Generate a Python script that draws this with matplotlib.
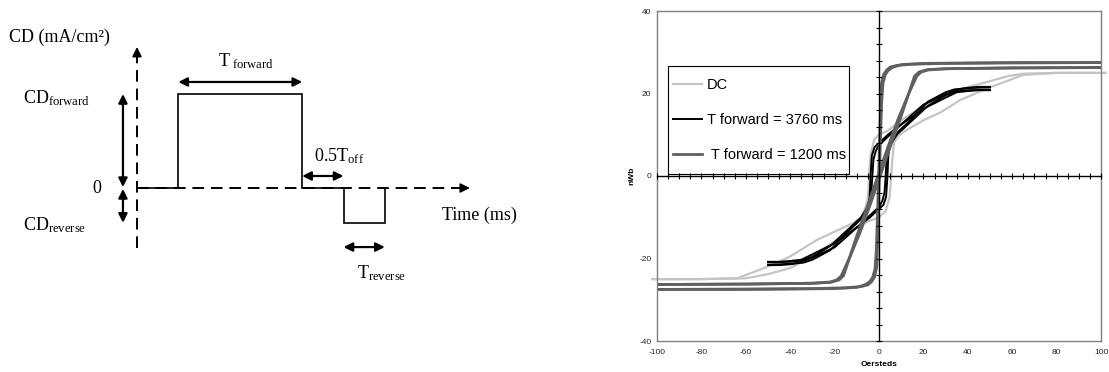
import numpy as np
import matplotlib
matplotlib.use("Agg")
import matplotlib.pyplot as plt
from matplotlib.patches import Rectangle

plt.rcParams['font.family'] = ['Liberation Sans', 'DejaVu Sans']
plt.rcParams['axes.unicode_minus'] = False
plt.rcParams['mathtext.fontset'] = 'custom'
plt.rcParams['mathtext.rm'] = 'Liberation Serif'
plt.rcParams['mathtext.it'] = 'Liberation Serif:italic'
plt.rcParams['mathtext.bf'] = 'Liberation Serif:bold'

# ---------------- schematic (left) data: abstract time / current units ----------------
pulse_t = [0, 1, 1, 4, 4, 5, 5, 6, 6]
pulse_cd = [0, 0, 1, 1, 0, 0, -0.37, -0.37, 0]
time_axis_end = 8.06
cd_axis_bottom = -0.64
cd_axis_top = 1.5

# ---------------- hysteresis data (Oersteds, nWb) ----------------
dc_desc_x = [102, 80, 65, 58, 50, 40, 30, 20, 10, 4, 0, -2, -3.5, -4.3, -4.7, -5.2, -6.3, -8.6, -12, -20, -28, -40, -48, -55, -64, -80, -102]
dc_desc_y = [25, 25, 24.8, 24.2, 23, 21.5, 19.5, 17, 13.5, 11, 10, 9, 6, 2, -3, -6, -8, -10.3, -11.5, -13.5, -15.5, -19.5, -21.5, -23, -24.8, -25, -25]
dc_asc_x = [-102, -80, -60, -50, -40, -30, -19, -13, -8, -4, 0, 3, 4.8, 5.5, 6, 6.8, 9, 12.5, 20, 28, 36.5, 50, 59, 65, 80, 102]
dc_asc_y = [-25, -25, -24.8, -23.8, -22.3, -19.5, -15.5, -13.3, -11.8, -10.8, -10, -8.5, -5, 0, 4, 8.2, 9.8, 11.2, 13.5, 15.5, 18.4, 21.5, 23.3, 24.5, 25, 25]

b1_desc_x = [50, 45, 40, 36, 30, 20, 10, 4, 0, -2, -3.2, -3.8, -4.2, -5, -8.6, -15, -22, -30, -34, -40, -50]
b1_desc_y = [21.6, 21.6, 21.4, 21.0, 19.8, 17.3, 12.5, 10.0, 8.0, 7.0, 5.0, 0, -5, -7.5, -10.7, -14.0, -18.0, -20.3, -21.0, -21.3, -21.5]
b1_asc_x = [-50, -45, -40, -36, -30, -20, -10, -4, 0, 2, 3.2, 3.8, 4.2, 5, 8.6, 15, 22, 30, 34, 40, 50]
b1_asc_y = [-21.6, -21.6, -21.4, -21.0, -19.8, -17.3, -12.5, -10.0, -8.0, -7.0, -5.0, 0, 5, 7.5, 10.7, 14.0, 18.0, 20.3, 21.0, 21.3, 21.5]

b2_desc_x = [50, 45, 40, 35, 30, 20, 10, 4, 0, -1.5, -2.5, -3.0, -3.5, -4.5, -8, -15, -22, -30, -35, -40, -50]
b2_desc_y = [20.8, 20.8, 20.6, 20.3, 19.0, 16.3, 12.5, 9.5, 7.5, 6.0, 4.0, 0, -4.5, -7.0, -10.0, -13.5, -17.0, -19.6, -20.5, -20.8, -20.9]
b2_asc_x = [-50, -45, -40, -35, -30, -20, -10, -4, 0, 1.5, 2.5, 3.0, 3.5, 4.5, 8, 15, 22, 30, 35, 40, 50]
b2_asc_y = [-20.8, -20.8, -20.6, -20.3, -19.0, -16.3, -12.5, -9.5, -7.5, -6.0, -4.0, 0, 4.5, 7.0, 10.0, 13.5, 17.0, 19.6, 20.5, 20.8, 20.9]

g1_asc_x = [-100, -60, -30, -22, -19, -17, -13, -8.6, -4, 0, 5, 10, 14, 16, 18, 22, 30, 60, 100]
g1_asc_y = [-26.3, -26.2, -26.0, -25.7, -25.2, -24.2, -19.5, -13.8, -7, -0.8, 7, 14.5, 21, 24.2, 25.2, 25.8, 26.0, 26.2, 26.3]
g1_desc_x = [100, 60, 30, 22, 19, 17, 13, 8.6, 4, 0, -5, -10, -14, -16, -18, -22, -30, -60, -100]
g1_desc_y = [26.3, 26.2, 26.0, 25.7, 25.2, 24.2, 19.5, 13.8, 7, 0.8, -7, -14.5, -21, -24.2, -25.2, -25.8, -26.0, -26.2, -26.3]

g2_asc_x = [-100, -60, -30, -15, -8, -5, -3.3, -2, -1, -0.6, 0, 0.6, 1.2, 1.8, 2.8, 4, 6, 10, 20, 60, 100]
g2_asc_y = [-27.5, -27.4, -27.3, -27.1, -26.8, -26.4, -25.6, -24.5, -22, -15, -3, 8, 18, 22.5, 24.5, 25.5, 26.3, 27.0, 27.3, 27.5, 27.5]
g2_desc_x = [100, 60, 30, 15, 8, 5, 3.3, 2, 1, 0.6, 0, -0.6, -1.2, -1.8, -2.8, -4, -6, -10, -20, -60, -100]
g2_desc_y = [27.5, 27.4, 27.3, 27.1, 26.8, 26.4, 25.6, 24.5, 22, 15, 3, -8, -18, -22.5, -24.5, -25.5, -26.3, -27.0, -27.3, -27.5, -27.5]

series_labels = ['DC', 'T forward = 3760 ms', ' T forward = 1200 ms']
series_colors = ['#c4c4c4', '#000000', '#606060']

x_major = np.arange(-100, 101, 20)
y_major = np.arange(-40, 41, 20)
x_minor = np.arange(-100, 101, 5)
y_minor = np.arange(-40, 41, 4)

W, H = 1109, 372
fig = plt.figure(figsize=(W / 100, H / 100), dpi=100)

# ======================= LEFT: schematic =======================
ax0 = fig.add_axes([0, 0, 560 / W, 1])
ax0.set_xlim(-3.317, 10.242)
ax0.set_ylim(-1.957, 2.0)
ax0.axis('off')

serif = 'Liberation Serif'
fs = 13
dash = (0, (6, 3.5))
ax0.plot([0, time_axis_end - 0.2], [0, 0], color='black', lw=1.4, linestyle=dash)
ax0.plot([0, 0], [cd_axis_bottom, cd_axis_top - 0.08], color='black', lw=1.4, linestyle=dash)
ax0.annotate('', xy=(time_axis_end, 0), xytext=(time_axis_end - 0.25, 0),
             arrowprops=dict(arrowstyle='-|>', color='black', lw=1.2, mutation_scale=14, shrinkA=0, shrinkB=0))
ax0.annotate('', xy=(0, cd_axis_top), xytext=(0, cd_axis_top - 0.12),
             arrowprops=dict(arrowstyle='-|>', color='black', lw=1.2, mutation_scale=14, shrinkA=0, shrinkB=0))
ax0.plot(pulse_t, pulse_cd, color='black', lw=1.2, solid_joinstyle='miter')

dbl = dict(arrowstyle='<|-|>', color='black', lw=1.6, mutation_scale=13, shrinkA=0, shrinkB=0)
ax0.annotate('', xy=(pulse_t[1], 1.128), xytext=(pulse_t[3], 1.128), arrowprops=dbl)
ax0.annotate('', xy=(-0.34, pulse_cd[2]), xytext=(-0.34, 0.01), arrowprops=dbl)
ax0.annotate('', xy=(-0.34, -0.01), xytext=(-0.34, pulse_cd[6]), arrowprops=dbl)
ax0.annotate('', xy=(pulse_t[4], 0.128), xytext=(pulse_t[5], 0.128), arrowprops=dbl)
ax0.annotate('', xy=(pulse_t[6], -0.628), xytext=(pulse_t[7], -0.628), arrowprops=dbl)

ax0.text(-3.1, 1.6, 'CD (mA/cm²)', family=serif, fontsize=fs, va='center', ha='left')
ax0.text(1.96, 1.30, r'$\mathrm{T}_{\mathrm{\ forward}}$', fontsize=fs, va='baseline', ha='left')
ax0.text(-2.76, 0.904, r'$\mathrm{CD}_{\mathrm{forward}}$', fontsize=fs, va='baseline', ha='left')
ax0.text(-0.97, 0.0, '0', family=serif, fontsize=fs, va='center', ha='center')
ax0.text(-2.76, -0.447, r'$\mathrm{CD}_{\mathrm{reverse}}$', fontsize=fs, va='baseline', ha='left')
ax0.text(4.29, 0.287, r'$\mathrm{0.5T}_{\mathrm{off}}$', fontsize=fs, va='baseline', ha='left')
ax0.text(7.38, -0.34, 'Time (ms)', family=serif, fontsize=fs, va='baseline', ha='left')
ax0.text(5.33, -0.957, r'$\mathrm{T}_{\mathrm{reverse}}$', fontsize=fs, va='baseline', ha='left')

# ======================= RIGHT: hysteresis =======================
pos = [657 / W, 31 / H, 444 / W, 330 / H]
ax = fig.add_axes(pos)
ax.set_xlim(-100, 100)
ax.set_ylim(-40, 40)

l_dc, = ax.plot(dc_desc_x, dc_desc_y, color=series_colors[0], lw=1.6, clip_on=False, label=series_labels[0])
ax.plot(dc_asc_x, dc_asc_y, color=series_colors[0], lw=1.6, clip_on=False)
l_b, = ax.plot(b1_desc_x, b1_desc_y, color=series_colors[1], lw=1.4, label=series_labels[1])
ax.plot(b1_asc_x, b1_asc_y, color=series_colors[1], lw=1.4)
ax.plot(b2_desc_x, b2_desc_y, color=series_colors[1], lw=1.4)
ax.plot(b2_asc_x, b2_asc_y, color=series_colors[1], lw=1.4)
l_g, = ax.plot(g1_asc_x, g1_asc_y, color=series_colors[2], lw=2.0, label=series_labels[2])
ax.plot(g1_desc_x, g1_desc_y, color=series_colors[2], lw=2.0)
ax.plot(g2_asc_x, g2_asc_y, color=series_colors[2], lw=2.0)
ax.plot(g2_desc_x, g2_desc_y, color=series_colors[2], lw=2.0)

ax.set_xticks(x_major)
ax.set_yticks(y_major)
ax.tick_params(length=0, labelsize=6, labelcolor='#222222')
ax.tick_params(axis='x', pad=6)
ax.tick_params(axis='y', pad=4)
for s in ax.spines.values():
    s.set_color('#808080')
    s.set_linewidth(1.0)
ax.set_xlabel('Oersteds', fontsize=6, fontweight='bold', labelpad=3)
ax.set_ylabel('nWb', fontsize=6, fontweight='bold', labelpad=3)

# legend frame (drawn separately so its padding can match the reference)
ax.add_patch(Rectangle(((668 - 657) / 444, (341 - 174) / 330), (849 - 668) / 444, (174 - 66) / 330,
                       transform=ax.transAxes, facecolor='white', edgecolor='black', lw=0.8,
                       zorder=4, clip_on=False))
leg = ax.legend(handles=[l_dc, l_b, l_g], labels=series_labels, loc='center left',
                bbox_to_anchor=((673 - 657) / 444, (341 - 120) / 330),
                fontsize=10.5, frameon=False, borderpad=0, labelspacing=1.42,
                handlelength=2.0, handletextpad=0.3, borderaxespad=0)
leg.set_zorder(5)

# crossing axes through the origin
ax2 = fig.add_axes(pos)
ax2.set_xlim(-100, 100)
ax2.set_ylim(-40, 40)
ax2.patch.set_visible(False)
ax2.spines['top'].set_visible(False)
ax2.spines['right'].set_visible(False)
ax2.spines['left'].set_position(('data', 0))
ax2.spines['bottom'].set_position(('data', 0))
for k in ('left', 'bottom'):
    ax2.spines[k].set_color('black')
    ax2.spines[k].set_linewidth(1.0)
ax2.set_xticks(x_minor)
ax2.set_yticks(y_minor)
ax2.tick_params(direction='inout', length=5, width=0.8, labelbottom=False, labelleft=False, color='black')

fig.savefig('out.png', dpi=100)
